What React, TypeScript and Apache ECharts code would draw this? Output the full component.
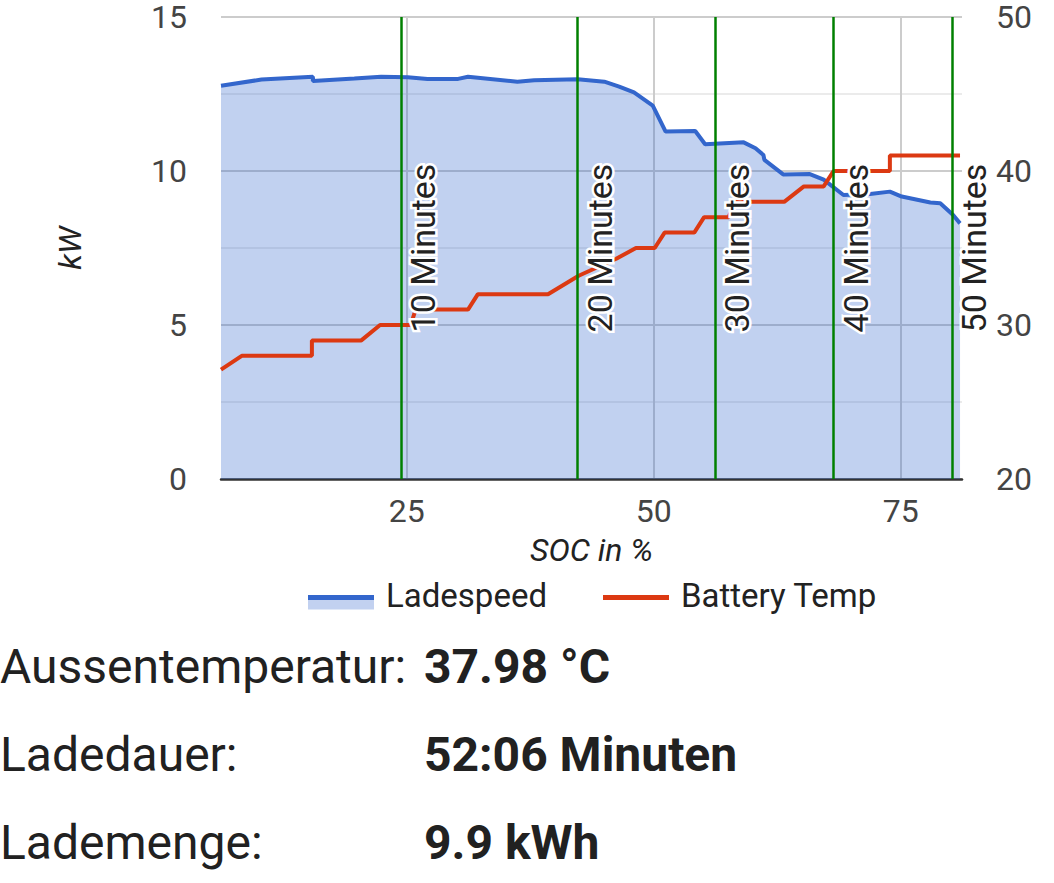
import React, { useEffect, useRef } from "react";
import * as echarts from "echarts";

// SOC (%) positions and charging power (kW)
const socKW = [6.2, 10.3, 15.5, 15.5, 19.7, 22.4, 25.1, 27.1, 30.2, 31.2, 36.2, 37.9, 42.3, 45.0, 46.5, 48.0, 49.9, 51.2, 54.2, 55.2, 59.1, 60.3, 61.1, 61.2, 63.1, 65.8, 67.2, 69.2, 71.9, 73.9, 75.1, 78.0, 79.0, 80.3, 81.0];
const ladespeed = [12.77, 12.97, 13.06, 12.92, 13.0, 13.06, 13.04, 12.99, 12.99, 13.06, 12.9, 12.95, 12.98, 12.9, 12.74, 12.55, 12.12, 11.28, 11.3, 10.87, 10.93, 10.74, 10.52, 10.36, 9.89, 9.9, 9.72, 9.22, 9.25, 9.33, 9.17, 8.98, 8.95, 8.57, 8.3];

// SOC (%) positions and battery temperature (°C)
const socTemp = [6.2, 8.3, 15.4, 15.4, 20.4, 22.3, 25.4, 25.9, 31.2, 32.2, 39.3, 42.4, 46.2, 48.2, 50.1, 51.1, 54.1, 55.1, 57.6, 58.1, 63.2, 65.2, 67.2, 68.2, 73.9, 73.9, 81.0];
const batteryTemp = [27.1, 28, 28, 29, 29, 30, 30, 31, 31, 32, 32, 33.2, 34.3, 35, 35, 36, 36, 37, 37, 38, 38, 39, 39, 40, 40, 41, 41];

// minute markers
const minuteSoc = [24.4, 42.3, 56.2, 68.2, 80.2];
const minuteLabels = ["10 Minutes", "20 Minutes", "30 Minutes", "40 Minutes", "50 Minutes"];

// axis ticks
const xTicks = [25, 50, 75];

// summary
const summaryLabels = ["Aussentemperatur:", "Ladedauer:", "Lademenge:"];
const summaryValues = ["37.98 °C", "52:06 Minuten", "9.9 kWh"];

const FONT = "Roboto";

function Chart() {
  const ref = useRef<HTMLDivElement>(null);
  useEffect(() => {
    if (!ref.current) return;
    const chart = echarts.init(ref.current, null, { renderer: "svg" });
    const blueGrad = {
      type: "linear", x: 0, y: 0, x2: 0, y2: 1,
      colorStops: [
        { offset: 0, color: "rgba(255,255,255,0)" },
        { offset: 0.5, color: "rgba(255,255,255,0)" },
        { offset: 0.5, color: "#3366cc" },
        { offset: 0.643, color: "#3366cc" },
        { offset: 0.643, color: "#c2d1f0" },
        { offset: 1, color: "#c2d1f0" },
      ],
    };
    const redGrad = {
      type: "linear", x: 0, y: 0, x2: 0, y2: 1,
      colorStops: [
        { offset: 0, color: "rgba(255,255,255,0)" },
        { offset: 0.5, color: "rgba(255,255,255,0)" },
        { offset: 0.5, color: "#dc3912" },
        { offset: 0.643, color: "#dc3912" },
        { offset: 0.643, color: "rgba(255,255,255,0)" },
        { offset: 1, color: "rgba(255,255,255,0)" },
      ],
    };
    chart.setOption({
      animation: false,
      textStyle: { fontFamily: FONT },
      grid: { left: 221, right: 92, top: 17, bottom: 144, outerBoundsMode: "none", containLabel: false },
      legend: {
        left: 308,
        top: 579,
        padding: 0,
        itemWidth: 66,
        itemHeight: 28,
        itemGap: 56,
        icon: "rect",
        selectedMode: false,
        textStyle: { fontSize: 33, color: "#222", fontFamily: FONT, padding: [0, 0, 0, 7] },
        data: [
          { name: "Ladespeed", itemStyle: { color: blueGrad, borderWidth: 0 } },
          { name: "Battery Temp", itemStyle: { color: redGrad, borderWidth: 0 } },
        ],
      },
      xAxis: {
        type: "value",
        min: 6.2,
        max: 81.2,
        name: "SOC in %",
        nameLocation: "middle",
        nameGap: 55,
        nameTextStyle: { fontStyle: "italic", fontSize: 32, color: "#222", fontFamily: FONT },
        axisLine: { show: true, onZero: false, lineStyle: { color: "#333", width: 2.5 } },
        axisTick: { show: false, customValues: xTicks },
        axisLabel: { customValues: xTicks, fontSize: 32, color: "#444", margin: 16, fontFamily: FONT },
        splitLine: { show: true, lineStyle: { color: "#cccccc", width: 2 } },
      },
      yAxis: [
        {
          type: "value",
          min: 0,
          max: 15,
          interval: 5,
          name: "kW",
          nameLocation: "middle",
          nameGap: 135,
          nameTextStyle: { fontStyle: "italic", fontSize: 32, color: "#222", fontFamily: FONT },
          axisLine: { show: false },
          axisTick: { show: false },
          axisLabel: { fontSize: 32, lineHeight: 28, color: "#444", margin: 34, fontFamily: FONT },
          splitLine: { show: true, lineStyle: { color: "#cccccc", width: 2 } },
          minorTick: { show: false, splitNumber: 2 },
          minorSplitLine: { show: true, lineStyle: { color: "#ebebeb", width: 2 } },
        },
        {
          type: "value",
          position: "right",
          min: 20,
          max: 50,
          interval: 10,
          axisLine: { show: false },
          axisTick: { show: false },
          axisLabel: { fontSize: 32, lineHeight: 28, color: "#444", margin: 34, fontFamily: FONT },
          splitLine: { show: false },
        },
      ],
      series: [
        {
          name: "Ladespeed",
          type: "line",
          yAxisIndex: 0,
          symbol: "none",
          data: socKW.map((x, i) => [x, ladespeed[i]]),
          lineStyle: { color: "#3366cc", width: 4 },
          itemStyle: { color: "#3366cc" },
          areaStyle: { color: "#3366cc", opacity: 0.3 },
          markLine: {
            silent: true,
            symbol: ["none", "none"],
            lineStyle: { color: "#008000", width: 2.5, type: "solid" },
            label: {
              show: true,
              position: "insideMiddleBottom",
              formatter: "{b}",
              fontSize: 34,
              color: "#222",
              fontFamily: FONT,
              textBorderColor: "#fff",
              textBorderWidth: 5,
              distance: 5,
            },
            emphasis: { disabled: true },
            data: minuteSoc.map((v, i) => ({ xAxis: v, name: minuteLabels[i] })),
          },
        },
        {
          name: "Battery Temp",
          type: "line",
          yAxisIndex: 1,
          symbol: "none",
          data: socTemp.map((x, i) => [x, batteryTemp[i]]),
          lineStyle: { color: "#dc3912", width: 4 },
          itemStyle: { color: "#dc3912" },
        },
      ],
    });
    return () => chart.dispose();
  }, []);
  return <div ref={ref} style={{ width: 1054, height: 623 }} />;
}

export default function App() {
  useEffect(() => {
    document.body.style.margin = "0";
  }, []);
  return (
    <div style={{ width: 1054, fontFamily: FONT, background: "#fff" }}>
      <Chart />
      {summaryLabels.map((l, i) => (
        <div key={l} style={{ display: "flex", height: 88, lineHeight: "88px", fontSize: 48, color: "#212121" }}>
          <div style={{ width: 424, whiteSpace: "nowrap" }}>{l}</div>
          <div style={{ fontWeight: 700, whiteSpace: "nowrap" }}>{summaryValues[i]}</div>
        </div>
      ))}
    </div>
  );
}
